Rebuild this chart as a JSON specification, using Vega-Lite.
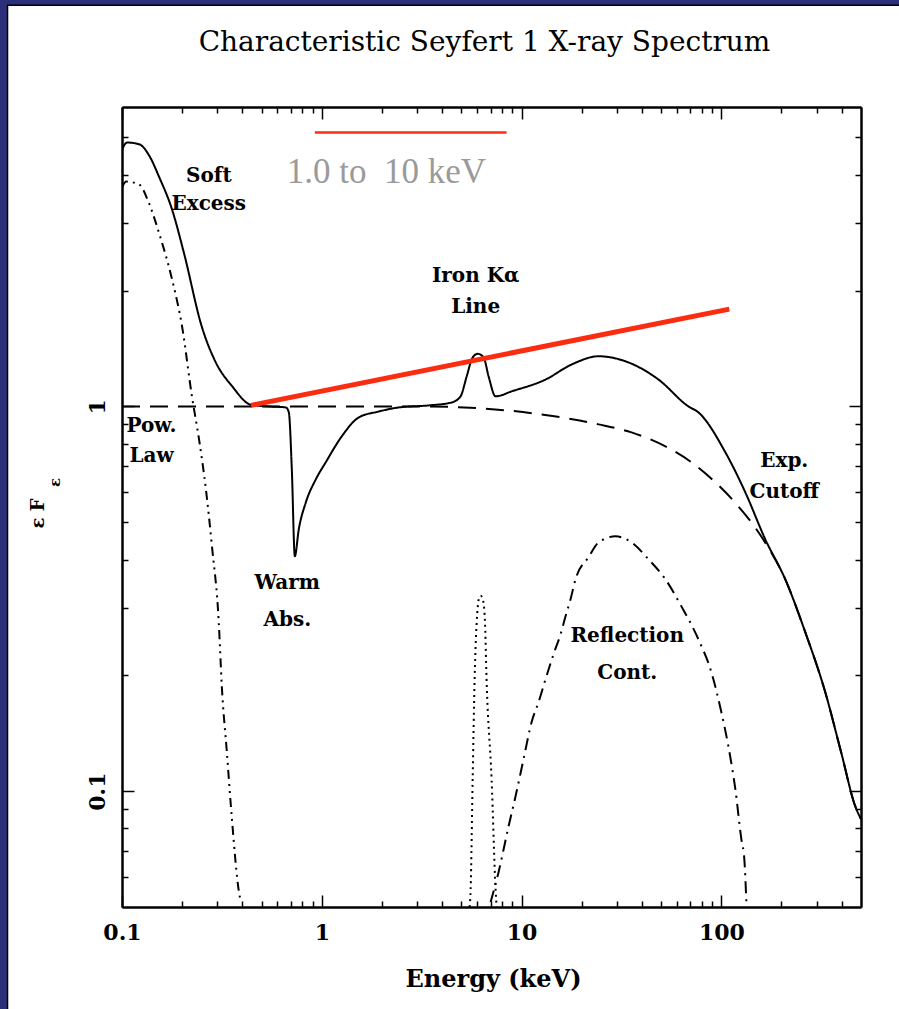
{
  "$schema": "https://vega.github.io/schema/vega-lite/v6.json",
  "width": 739,
  "height": 800,
  "autosize": {"type": "none"},
  "padding": {"left": 122, "top": 107, "right": 38, "bottom": 102},
  "background": "#2c2f7a",
  "title": {
    "text": "Characteristic Seyfert 1 X-ray Spectrum",
    "font": "DejaVu Serif",
    "fontSize": 28,
    "fontWeight": "normal",
    "color": "black",
    "anchor": "middle",
    "frame": "group",
    "baseline": "alphabetic",
    "offset": -74,
    "dx": -7
  },
  "datasets": {
    "curves": [
      {"c": "total", "e": 0.1, "f": 4.65},
      {"c": "total", "e": 0.106, "f": 4.85},
      {"c": "total", "e": 0.122, "f": 4.8},
      {"c": "total", "e": 0.138, "f": 4.45},
      {"c": "total", "e": 0.153, "f": 3.96},
      {"c": "total", "e": 0.178, "f": 3.25},
      {"c": "total", "e": 0.204, "f": 2.51},
      {"c": "total", "e": 0.251, "f": 1.61},
      {"c": "total", "e": 0.295, "f": 1.3},
      {"c": "total", "e": 0.355, "f": 1.13},
      {"c": "total", "e": 0.442, "f": 1.01},
      {"c": "total", "e": 0.543, "f": 1.0},
      {"c": "total", "e": 0.661, "f": 0.994},
      {"c": "total", "e": 0.684, "f": 0.965},
      {"c": "total", "e": 0.708, "f": 0.686},
      {"c": "total", "e": 0.733, "f": 0.408},
      {"c": "total", "e": 0.767, "f": 0.479},
      {"c": "total", "e": 0.832, "f": 0.563},
      {"c": "total", "e": 0.933, "f": 0.646},
      {"c": "total", "e": 1.047, "f": 0.716},
      {"c": "total", "e": 1.259, "f": 0.836},
      {"c": "total", "e": 1.53, "f": 0.936},
      {"c": "total", "e": 1.93, "f": 0.97},
      {"c": "total", "e": 2.43, "f": 0.994},
      {"c": "total", "e": 3.43, "f": 1.006},
      {"c": "total", "e": 4.47, "f": 1.024},
      {"c": "total", "e": 4.95, "f": 1.062},
      {"c": "total", "e": 5.31, "f": 1.196},
      {"c": "total", "e": 5.69, "f": 1.34},
      {"c": "total", "e": 6.03, "f": 1.37},
      {"c": "total", "e": 6.46, "f": 1.34},
      {"c": "total", "e": 6.84, "f": 1.196},
      {"c": "total", "e": 7.41, "f": 1.062},
      {"c": "total", "e": 8.91, "f": 1.094},
      {"c": "total", "e": 13.2, "f": 1.175},
      {"c": "total", "e": 17.8, "f": 1.285},
      {"c": "total", "e": 24.3, "f": 1.35},
      {"c": "total", "e": 33.1, "f": 1.31},
      {"c": "total", "e": 48.4, "f": 1.175},
      {"c": "total", "e": 68.4, "f": 1.0},
      {"c": "total", "e": 76.7, "f": 0.965},
      {"c": "total", "e": 104.7, "f": 0.76},
      {"c": "total", "e": 131.8, "f": 0.598},
      {"c": "total", "e": 166, "f": 0.451},
      {"c": "total", "e": 209, "f": 0.355},
      {"c": "total", "e": 263, "f": 0.259},
      {"c": "total", "e": 331, "f": 0.181},
      {"c": "total", "e": 398, "f": 0.126},
      {"c": "total", "e": 468, "f": 0.0914},
      {"c": "total", "e": 500, "f": 0.0846},
      {"c": "powerlaw", "e": 0.1, "f": 1.0},
      {"c": "powerlaw", "e": 0.5, "f": 1.0},
      {"c": "powerlaw", "e": 1.0, "f": 1.0},
      {"c": "powerlaw", "e": 2.0, "f": 1.0},
      {"c": "powerlaw", "e": 3.05, "f": 1.0},
      {"c": "powerlaw", "e": 6.3, "f": 0.988},
      {"c": "powerlaw", "e": 12.6, "f": 0.953},
      {"c": "powerlaw", "e": 24.3, "f": 0.898},
      {"c": "powerlaw", "e": 35.5, "f": 0.856},
      {"c": "powerlaw", "e": 52.5, "f": 0.787},
      {"c": "powerlaw", "e": 70.8, "f": 0.716},
      {"c": "powerlaw", "e": 93.3, "f": 0.635},
      {"c": "powerlaw", "e": 121.6, "f": 0.55},
      {"c": "powerlaw", "e": 158.5, "f": 0.459},
      {"c": "powerlaw", "e": 209, "f": 0.355},
      {"c": "powerlaw", "e": 263, "f": 0.259},
      {"c": "powerlaw", "e": 331, "f": 0.181},
      {"c": "powerlaw", "e": 398, "f": 0.126},
      {"c": "powerlaw", "e": 468, "f": 0.0914},
      {"c": "powerlaw", "e": 500, "f": 0.0846},
      {"c": "softexcess", "e": 0.1, "f": 3.71},
      {"c": "softexcess", "e": 0.105, "f": 3.84},
      {"c": "softexcess", "e": 0.122, "f": 3.77},
      {"c": "softexcess", "e": 0.136, "f": 3.39},
      {"c": "softexcess", "e": 0.153, "f": 2.83},
      {"c": "softexcess", "e": 0.178, "f": 2.14},
      {"c": "softexcess", "e": 0.2, "f": 1.61},
      {"c": "softexcess", "e": 0.224, "f": 1.06},
      {"c": "softexcess", "e": 0.243, "f": 0.821},
      {"c": "softexcess", "e": 0.263, "f": 0.609},
      {"c": "softexcess", "e": 0.282, "f": 0.433},
      {"c": "softexcess", "e": 0.305, "f": 0.275},
      {"c": "softexcess", "e": 0.316, "f": 0.187},
      {"c": "softexcess", "e": 0.335, "f": 0.126},
      {"c": "softexcess", "e": 0.355, "f": 0.0846},
      {"c": "softexcess", "e": 0.385, "f": 0.0547},
      {"c": "softexcess", "e": 0.394, "f": 0.0515},
      {"c": "iron", "e": 5.5, "f": 0.05},
      {"c": "iron", "e": 5.56, "f": 0.0556},
      {"c": "iron", "e": 5.69, "f": 0.107},
      {"c": "iron", "e": 5.82, "f": 0.195},
      {"c": "iron", "e": 6.0, "f": 0.29},
      {"c": "iron", "e": 6.1, "f": 0.315},
      {"c": "iron", "e": 6.24, "f": 0.322},
      {"c": "iron", "e": 6.4, "f": 0.315},
      {"c": "iron", "e": 6.55, "f": 0.28},
      {"c": "iron", "e": 6.68, "f": 0.195},
      {"c": "iron", "e": 7.08, "f": 0.107},
      {"c": "iron", "e": 7.41, "f": 0.0556},
      {"c": "iron", "e": 7.5, "f": 0.05},
      {"c": "reflection", "e": 7.0, "f": 0.0515},
      {"c": "reflection", "e": 7.67, "f": 0.0616},
      {"c": "reflection", "e": 8.61, "f": 0.0811},
      {"c": "reflection", "e": 9.33, "f": 0.097},
      {"c": "reflection", "e": 10.23, "f": 0.1211},
      {"c": "reflection", "e": 11.22, "f": 0.1511},
      {"c": "reflection", "e": 12.16, "f": 0.1703},
      {"c": "reflection", "e": 13.18, "f": 0.1954},
      {"c": "reflection", "e": 14.45, "f": 0.2269},
      {"c": "reflection", "e": 15.67, "f": 0.2557},
      {"c": "reflection", "e": 16.6, "f": 0.2848},
      {"c": "reflection", "e": 17.58, "f": 0.3152},
      {"c": "reflection", "e": 18.62, "f": 0.3553},
      {"c": "reflection", "e": 21.63, "f": 0.4054},
      {"c": "reflection", "e": 24.32, "f": 0.4433},
      {"c": "reflection", "e": 29.51, "f": 0.4596},
      {"c": "reflection", "e": 35.48, "f": 0.4433},
      {"c": "reflection", "e": 43.15, "f": 0.4006},
      {"c": "reflection", "e": 52.48, "f": 0.3553},
      {"c": "reflection", "e": 63.1, "f": 0.3022},
      {"c": "reflection", "e": 76.74, "f": 0.2482},
      {"c": "reflection", "e": 89.13, "f": 0.2038},
      {"c": "reflection", "e": 100, "f": 0.1604},
      {"c": "reflection", "e": 108.4, "f": 0.1309},
      {"c": "reflection", "e": 117.5, "f": 0.1012},
      {"c": "reflection", "e": 125.9, "f": 0.075},
      {"c": "reflection", "e": 130.3, "f": 0.0666},
      {"c": "reflection", "e": 133.4, "f": 0.0515}
    ],
    "labels": [
      {"t": "Soft", "e": 0.272, "f": 3.82},
      {"t": "Excess", "e": 0.272, "f": 3.23},
      {"t": "Iron Kα", "e": 5.89, "f": 2.11},
      {"t": "Line", "e": 5.89, "f": 1.754},
      {"t": "Pow.", "e": 0.1405, "f": 0.856},
      {"t": "Law", "e": 0.1405, "f": 0.715},
      {"t": "Warm", "e": 0.672, "f": 0.3347},
      {"t": "Abs.", "e": 0.672, "f": 0.2683},
      {"t": "Reflection", "e": 33.8, "f": 0.2438},
      {"t": "Cont.", "e": 33.8, "f": 0.1954},
      {"t": "Exp.", "e": 206.5, "f": 0.694},
      {"t": "Cutoff", "e": 206.5, "f": 0.577}
    ],
    "redlong": [
      {"e": 0.442, "f": 1.006},
      {"e": 109.6, "f": 1.79}
    ],
    "redshort": [
      {"e": 0.923, "f": 5.15},
      {"e": 8.41, "f": 5.15}
    ],
    "note": [
      {"t": "1.0 to\u00a0 10 keV", "e": 0.668, "f": 3.8}
    ]
  },
  "config": {
    "view": {"stroke": null},
    "axis": {
      "domainColor": "black",
      "domainWidth": 2,
      "tickColor": "black",
      "tickWidth": 1.5,
      "grid": false,
      "labelFont": "DejaVu Serif",
      "labelFontSize": 22,
      "labelFontWeight": "bold",
      "labelColor": "black",
      "labelFlush": false,
      "labelOverlap": false,
      "titleFont": "DejaVu Serif",
      "titleFontWeight": "bold",
      "titleColor": "black"
    }
  },
  "resolve": {"axis": {"x": "independent", "y": "independent"}},
  "layer": [
    {
      "data": {"values": [{}]},
      "mark": {"type": "rect", "fill": "white", "stroke": "black", "strokeWidth": 1.5},
      "encoding": {
        "x": {"datum": 0.02673, "type": "quantitative", "scale": {"type": "log", "domain": [0.1, 500]}, "axis": null},
        "x2": {"datum": 100000},
        "y": {"datum": 11.03, "type": "quantitative", "scale": {"type": "log", "domain": [0.05, 6]}, "axis": null},
        "y2": {"datum": 0.001}
      }
    },
    {
      "data": {"name": "curves"},
      "mark": {"type": "line", "interpolate": "monotone", "strokeWidth": 2, "color": "black", "clip": true},
      "encoding": {
        "x": {
          "field": "e", "type": "quantitative",
          "scale": {"type": "log", "domain": [0.1, 500]},
          "axis": {
            "zindex": 1,
            "orient": "bottom", "values": [0.1, 1, 10, 100], "tickSize": -12, "labelPadding": 27,
            "format": "~g", "title": "Energy (keV)", "titleFontSize": 24,
            "titleX": 371, "titleY": 79, "titleBaseline": "alphabetic", "titleAlign": "center"
          }
        },
        "y": {
          "field": "f", "type": "quantitative",
          "scale": {"type": "log", "domain": [0.05, 6]},
          "axis": {
            "zindex": 1,
            "orient": "left", "values": [0.1, 1], "tickSize": -12, "labelPadding": 30,
            "labelAngle": 270, "labelAlign": "center", "labelBaseline": "alphabetic",
            "format": "~g", "title": "ε F", "titleFontSize": 18, "titleAngle": 270,
            "titleX": -84, "titleY": 406, "titleAlign": "center", "titleBaseline": "middle"
          }
        },
        "strokeDash": {
          "field": "c", "type": "nominal",
          "scale": {
            "domain": ["total", "powerlaw", "softexcess", "iron", "reflection"],
            "range": [[1, 0], [18, 10], [9, 5, 2, 5, 2, 5], [2, 4], [12, 6, 2, 6]]
          },
          "legend": null
        }
      }
    },
    {
      "data": {"name": "redlong"},
      "mark": {"type": "line", "strokeWidth": 5, "color": "#fb2c0f"},
      "encoding": {
        "x": {
          "field": "e", "type": "quantitative",
          "scale": {"type": "log", "domain": [0.1, 500]},
          "axis": {
            "zindex": 1,
            "orient": "bottom", "values": [0.2, 0.3, 0.4, 0.5, 0.6, 0.7, 0.8, 0.9, 2, 3, 4, 5, 6, 7, 8, 9, 20, 30, 40, 50, 60, 70, 80, 90, 200, 300, 400],
            "tickSize": -6, "labels": false, "title": null
          }
        },
        "y": {
          "field": "f", "type": "quantitative",
          "scale": {"type": "log", "domain": [0.05, 6]},
          "axis": {
            "zindex": 1,
            "orient": "left", "values": [0.06, 0.07, 0.08, 0.09, 0.2, 0.3, 0.4, 0.5, 0.6, 0.7, 0.8, 0.9, 2, 3, 4, 5],
            "tickSize": -6, "labels": false, "title": "ε", "titleFontSize": 15, "titleAngle": 270,
            "titleX": -68, "titleY": 375, "titleAlign": "center", "titleBaseline": "middle"
          }
        }
      }
    },
    {
      "data": {"name": "labels"},
      "mark": {"type": "text", "font": "DejaVu Serif", "fontWeight": "bold", "fontSize": 20, "align": "center", "baseline": "alphabetic", "color": "black"},
      "encoding": {
        "x": {
          "field": "e", "type": "quantitative",
          "scale": {"type": "log", "domain": [0.1, 500]},
          "axis": {"zindex": 1, "orient": "top", "values": [0.1, 1, 10, 100], "tickSize": -12, "labels": false, "title": null}
        },
        "y": {
          "field": "f", "type": "quantitative",
          "scale": {"type": "log", "domain": [0.05, 6]},
          "axis": {"zindex": 1, "orient": "right", "values": [0.1, 1], "tickSize": -12, "labels": false, "title": null}
        },
        "text": {"field": "t", "type": "nominal"}
      }
    },
    {
      "data": {"name": "redshort"},
      "mark": {"type": "line", "strokeWidth": 2.5, "color": "#fb2c0f"},
      "encoding": {
        "x": {
          "field": "e", "type": "quantitative",
          "scale": {"type": "log", "domain": [0.1, 500]},
          "axis": {
            "zindex": 1,
            "orient": "top", "values": [0.2, 0.3, 0.4, 0.5, 0.6, 0.7, 0.8, 0.9, 2, 3, 4, 5, 6, 7, 8, 9, 20, 30, 40, 50, 60, 70, 80, 90, 200, 300, 400],
            "tickSize": -6, "labels": false, "title": null
          }
        },
        "y": {
          "field": "f", "type": "quantitative",
          "scale": {"type": "log", "domain": [0.05, 6]},
          "axis": {
            "zindex": 1,
            "orient": "right", "values": [0.06, 0.07, 0.08, 0.09, 0.2, 0.3, 0.4, 0.5, 0.6, 0.7, 0.8, 0.9, 2, 3, 4, 5],
            "tickSize": -6, "labels": false, "title": null
          }
        }
      }
    },
    {
      "data": {"name": "note"},
      "mark": {"type": "text", "font": "Liberation Serif", "fontSize": 35, "align": "left", "baseline": "alphabetic", "color": "#9a9a9a"},
      "encoding": {
        "x": {"field": "e", "type": "quantitative", "scale": {"type": "log", "domain": [0.1, 500]}, "axis": null},
        "y": {"field": "f", "type": "quantitative", "scale": {"type": "log", "domain": [0.05, 6]}, "axis": null},
        "text": {"field": "t", "type": "nominal"}
      }
    }
  ]
}
